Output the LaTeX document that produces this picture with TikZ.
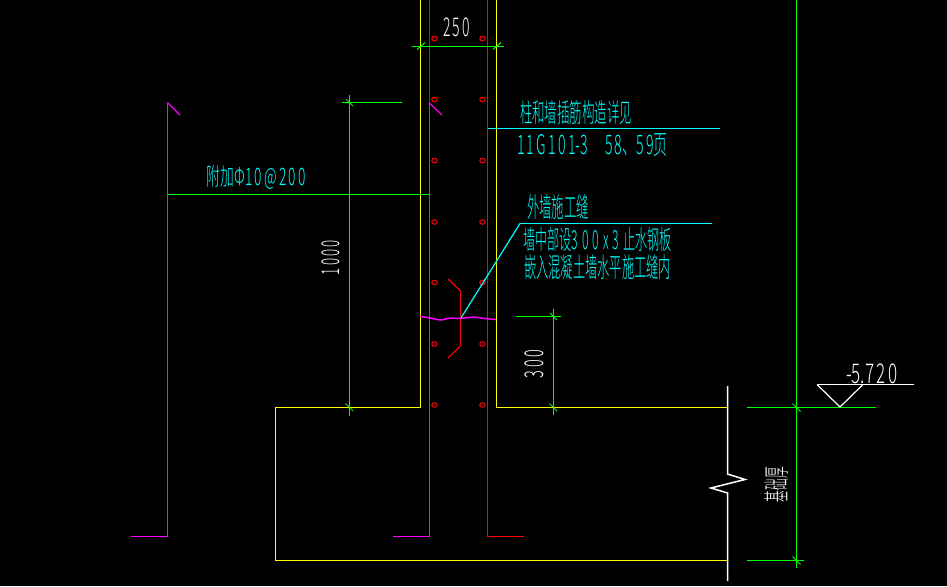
\documentclass[tikz,border=0pt]{standalone}
\usepackage{graphicx}
\usepackage{fontspec}
\setmainfont{Noto Sans CJK SC}[UprightFont=* Light]
\definecolor{cadY}{RGB}{255,255,0}
\definecolor{cadG}{RGB}{0,255,0}
\definecolor{cadR}{RGB}{255,0,0}
\definecolor{cadM}{RGB}{255,0,255}
\definecolor{cadC}{RGB}{0,255,255}
\newcommand{\fit}[3]{\resizebox*{#1pt}{#2pt}{#3}}
\tikzset{
  x=1pt,y=-1pt,
  cadline/.style={line width=1.5pt,line cap=butt,line join=miter},
  wall/.style={cadline,draw=cadY},
  dim/.style={cadline,draw=cadG},
  tick/.style={line width=1pt,draw=cadG},
  bar/.style={cadline,draw=cadM},
  red bar/.style={cadline,draw=cadR},
  leader/.style={cadline,draw=cadC},
  whiteline/.style={cadline,draw=white},
  dot/.style={draw=cadR,line width=1pt,ellipse,minimum width=5.5pt,minimum height=4.5pt,inner sep=0pt},
  cyantext/.style={text=cadC,inner sep=0pt,outer sep=0pt},
  whitetext/.style={text=white,inner sep=0pt,outer sep=0pt}
}
\usetikzlibrary{shapes.geometric}
\begin{document}
\begin{tikzpicture}
\useasboundingbox (0,0) rectangle (947,586);
\fill[black] (0,0) rectangle (947,586);
\begin{scope}
\clip (0,0) rectangle (947,586);
% walls and foundation
\draw[wall] (420.5,0) -- (420.5,407.5) -- (275.5,407.5) -- (275.5,560.5) -- (727,560.5);
\draw[wall] (496.5,0) -- (496.5,407.5) -- (727,407.5);
% break line
\draw[whiteline] (727.5,386) -- (727.5,474) -- (745,479.5) -- (711,488) -- (727.5,493) -- (727.5,581);
% bars
\draw[red bar] (429.5,0) -- (429.5,103);
\draw[bar,line width=1.2pt] (442,115) -- (429.5,103);
\draw[bar] (429.5,103) -- (429.5,536.5) -- (393,536.5);
\draw[red bar] (487.5,0) -- (487.5,536.5) -- (524,536.5);
\draw[bar,line width=1.2pt] (180,115) -- (167.5,102.5);
\draw[bar] (167.5,102.5) -- (167.5,536.5) -- (131,536.5);
% water stop
\draw[red bar,line width=1.2pt] (448,279) -- (460.5,291);
\draw[red bar] (460.5,291) -- (460.5,346);
\draw[red bar,line width=1.2pt] (460.5,346) -- (448,358);
% rebar dots
\foreach \yy [count=\i] in {38.5,99.5,160.5,222,282.5,344,405} {
  \node[dot] (dl\i) at (434.5,\yy) {};
  \node[dot] (dr\i) at (482.5,\yy) {};
}
% construction joint
\draw[bar] plot[smooth,tension=0.3] coordinates {(420,316.5) (430,318) (441,320) (450,318) (460,318.5) (474,317) (484,318.5) (496,319.5)};
% dimension 250
\draw[dim] (412,46.5) -- (504,46.5);
\draw[tick] (417,49.5) -- (425,42.5);
\draw[tick] (493,49.5) -- (501,42.5);
% dimension 1000
\draw[dim] (349.5,95) -- (349.5,415.5);
\draw[dim] (342,102.5) -- (402,102.5);
\draw[tick] (346,99) -- (353,106);
\draw[tick] (345.5,403.5) -- (353,411);
% 附加 bar
\draw[dim] (168,194.5) -- (429,194.5);
% dimension 300
\draw[dim] (553.5,309) -- (553.5,415);
\draw[dim] (516,316.5) -- (561,316.5);
\draw[tick] (550,313) -- (557,320);
\draw[tick] (549.5,403.5) -- (557,411);
% right axis
\draw[dim] (796.5,0) -- (796.5,567.5);
\draw[dim] (747,407.5) -- (876,407.5);
\draw[dim] (747,560.5) -- (804,560.5);
\draw[tick] (792.5,403.5) -- (800.5,411.5);
\draw[tick] (792.5,556.5) -- (800.5,564.5);
% level mark
\draw[whiteline] (914,384.5) -- (817,384.5);
\draw[whiteline,line width=1.2pt] (817,384.5) -- (840,407) -- (863,384.5);
% leaders
\draw[leader] (488,128.5) -- (720,128.5);
\draw[leader] (712,223.5) -- (520,223.5);
\draw[leader,line width=1.2pt] (520,223.5) -- (461,318);
% texts
\node[whitetext] (t250) at (456.5,27.5) {\fit{27}{19}{2\,5\,0}};
\node[whitetext,rotate=90] (t1000) at (331,257.5) {\fit{35}{18}{1\,0\,0\,0}};
\node[whitetext,rotate=90] (t300) at (534,364) {\fit{28}{19}{3\,0\,0}};
\node[whitetext] (tlev) at (872,374) {\fit{52}{20}{-5.7\,2\,0}};
\node[whitetext,rotate=90] (tbase) at (776,484.5) {\fit{35}{24}{基础厚}};
\node[cyantext] (t1) at (576,113) {\fit{112}{24}{柱和墙插筋构造详见}};
\node[cyantext] (t2) at (592.5,145.5) {\fit{151}{23}{1\,1\,G\,1\,0\,1-3\hspace{1.2em}5\,8、5\,9页}};
\node[cyantext] (t3) at (558,207.5) {\fit{62}{25}{外墙施工缝}};
\node[cyantext] (t4) at (597.5,240) {\fit{149}{24}{墙中部设3\,\,0\,\,0\,\,x\,\,3\,\,止水钢板}};
\node[cyantext] (t5) at (597.5,267.5) {\fit{147}{25}{嵌入混凝土墙水平施工缝内}};
\node[cyantext] (t6) at (256.5,177) {\fit{99}{24}{附加Φ1\,0\,@\,2\,0\,0}};
\end{scope}
\end{tikzpicture}
\end{document}
